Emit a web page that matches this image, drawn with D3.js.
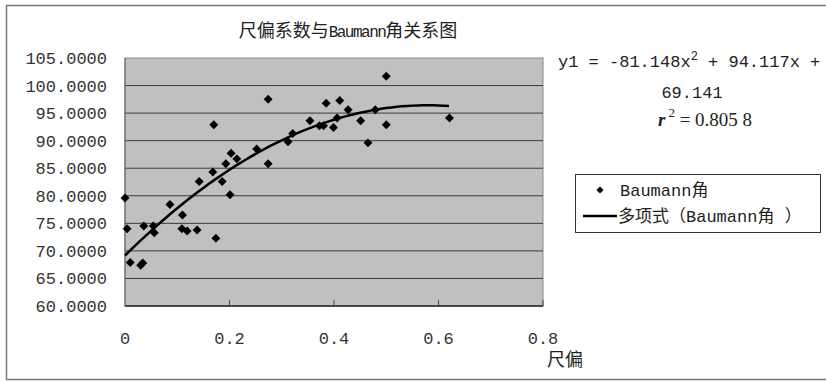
<!DOCTYPE html>
<html>
<head>
<meta charset="utf-8">
<script src="https://cdn.jsdelivr.net/npm/d3@7"></script>
<style>
  body { margin: 0; background: #fff; }
  svg { display: block; }
</style>
</head>
<body>
<div id="chart"></div>
<script>
// 尺偏 (x) and Baumann角 (y)
const ratio = [0.000, 0.004, 0.010, 0.030, 0.034, 0.036, 0.054, 0.056, 0.086, 0.110,
  0.109, 0.119, 0.138, 0.142, 0.170, 0.174, 0.168, 0.186, 0.201, 0.193,
  0.203, 0.214, 0.252, 0.274, 0.274, 0.312, 0.321, 0.354, 0.372, 0.380,
  0.385, 0.399, 0.406, 0.411, 0.427, 0.451, 0.465, 0.479, 0.500, 0.500, 0.621]
const baumann = [79.6, 74.0, 67.9, 67.4, 67.8, 74.5, 74.5, 73.3, 78.4, 76.5,
  74.0, 73.6, 73.8, 82.6, 92.9, 72.3, 84.3, 82.6, 80.2, 85.8,
  87.7, 86.7, 88.5, 85.8, 97.5, 89.8, 91.3, 93.6, 92.7, 92.7,
  96.8, 92.4, 94.1, 97.3, 95.6, 93.6, 89.6, 95.6, 101.7, 92.9, 94.1]

// trendline coefficients as printed on the chart: a x^2 + b x + c
const trendCoef = [-81.148, 94.117, 69.141]

const xTicks = [0, 0.2, 0.4, 0.6, 0.8]
const yTicks = [60, 65, 70, 75, 80, 85, 90, 95, 100, 105]

const W = 826, H = 382
const mono = "'Liberation Mono', 'DejaVu Sans Mono', monospace"
const cjk = "'Noto Sans CJK SC', sans-serif"

const svg = d3.select("#chart").append("svg")
  .attr("width", W)
  .attr("height", H)

// outer chart frame
svg.append("rect")
  .attr("x", 6.5).attr("y", 5.5)
  .attr("width", W + 10).attr("height", 374)
  .attr("fill", "#fff")
  .attr("stroke", "#7a7a7a")
  .attr("stroke-width", 1.5)

const x = d3.scaleLinear().domain([0, 0.8]).range([125, 543])
const y = d3.scaleLinear().domain([60, 105]).range([306, 58])

// plot area
svg.append("rect")
  .attr("x", x(0)).attr("y", y(105))
  .attr("width", x(0.8) - x(0)).attr("height", y(60) - y(105))
  .attr("fill", "#c0c0c0")
  .attr("stroke", "#8a8a8a")

// horizontal gridlines
svg.append("g")
  .selectAll("line")
  .data(yTicks.filter(d => d > 60 && d < 105))
  .join("line")
    .attr("x1", x(0)).attr("x2", x(0.8))
    .attr("y1", d => y(d)).attr("y2", d => y(d))
    .attr("stroke", "#3a3a3a")
    .attr("stroke-width", 1)

// left + bottom axis lines
svg.append("line")
  .attr("x1", x(0)).attr("x2", x(0))
  .attr("y1", y(105)).attr("y2", y(60))
  .attr("stroke", "#666")
svg.append("line")
  .attr("x1", x(0)).attr("x2", x(0.8))
  .attr("y1", y(60)).attr("y2", y(60))
  .attr("stroke", "#222")
  .attr("stroke-width", 1.5)

// x tick marks pointing up into the plot
svg.append("g")
  .selectAll("line")
  .data(xTicks.slice(1))
  .join("line")
    .attr("x1", d => x(d)).attr("x2", d => x(d))
    .attr("y1", y(60) - 6).attr("y2", y(60))
    .attr("stroke", "#444")

// y tick labels
svg.append("g")
  .selectAll("text")
  .data(yTicks)
  .join("text")
    .attr("x", 107)
    .attr("y", d => y(d) + 6)
    .attr("text-anchor", "end")
    .attr("font-family", mono)
    .attr("font-size", 17)
    .attr("fill", "#333")
    .text(d => d3.format(".4f")(d))

// x tick labels
svg.append("g")
  .selectAll("text")
  .data(xTicks)
  .join("text")
    .attr("x", d => x(d))
    .attr("y", 344)
    .attr("text-anchor", "middle")
    .attr("font-family", mono)
    .attr("font-size", 17)
    .attr("fill", "#333")
    .text(d => d === 0 ? "0" : d3.format(".1f")(d))

// trendline over the data range
const [a, b, c] = trendCoef
const trend = d3.range(0, d3.max(ratio) + 0.0001, 0.01).map(v => [v, a * v * v + b * v + c])
svg.append("path")
  .datum(trend)
  .attr("fill", "none")
  .attr("stroke", "#000")
  .attr("stroke-width", 2.5)
  .attr("d", d3.line().x(d => x(d[0])).y(d => y(d[1])))

// scatter points (diamonds)
const diamond = d3.symbol(d3.symbolSquare, 40)
svg.append("g")
  .selectAll("path")
  .data(d3.zip(ratio, baumann))
  .join("path")
    .attr("d", diamond)
    .attr("transform", d => `translate(${x(d[0])},${y(d[1])}) rotate(45)`)
    .attr("fill", "#000")

// mixed text: latin runs in mono, CJK in Noto
function mixed(sel, parts) {
  parts.forEach(p => {
    sel.append("tspan")
      .attr("font-family", /[\u3000-\u9fff\uff00-\uffef]/.test(p) ? cjk : mono)
      .text(p)
  })
  return sel
}

// title
mixed(svg.append("text")
  .attr("x", 348).attr("y", 37)
  .attr("text-anchor", "middle")
  .attr("font-size", 18)
  .attr("fill", "#222"), ["尺偏系数与", "Baumann", "角关系图"])
  .select("tspan:nth-child(2)").attr("font-size", 16).attr("letter-spacing", -1.5)

// x axis title
svg.append("text")
  .attr("x", 565).attr("y", 366)
  .attr("text-anchor", "middle")
  .attr("font-family", cjk)
  .attr("font-size", 18)
  .attr("fill", "#222")
  .text("尺偏")

// equation
const eq = svg.append("text")
  .attr("x", 558).attr("y", 67)
  .attr("font-family", mono)
  .attr("font-size", 17)
  .attr("fill", "#222")
eq.append("tspan").text(`y1 = ${a}x`)
eq.append("tspan").attr("dy", -7).attr("font-size", 12).text("2")
eq.append("tspan").attr("dy", 7).text(` + ${b}x +`)

svg.append("text")
  .attr("x", 692).attr("y", 98)
  .attr("text-anchor", "middle")
  .attr("font-family", mono)
  .attr("font-size", 17)
  .attr("fill", "#222")
  .text(c)

const r2 = svg.append("text")
  .attr("x", 658).attr("y", 126)
  .attr("font-family", "'Liberation Serif', serif")
  .attr("font-size", 19)
  .attr("fill", "#222")
r2.append("tspan").attr("font-style", "italic").attr("font-weight", "bold").text("r")
r2.append("tspan").attr("dy", -9).attr("dx", 3).attr("font-size", 13).text("2")
r2.append("tspan").attr("dy", 9).text("  = 0.805 8")

// legend
const lg = svg.append("g")
lg.append("rect")
  .attr("x", 575.5).attr("y", 174.5)
  .attr("width", 245).attr("height", 58)
  .attr("fill", "#fff")
  .attr("stroke", "#333")
lg.append("path")
  .attr("d", d3.symbol(d3.symbolSquare, 26))
  .attr("transform", "translate(600,190) rotate(45)")
  .attr("fill", "#000")
mixed(lg.append("text")
  .attr("x", 620).attr("y", 196)
  .attr("font-size", 17)
  .attr("fill", "#222"), ["Baumann", "角"])
lg.append("line")
  .attr("x1", 583).attr("x2", 617)
  .attr("y1", 216).attr("y2", 216)
  .attr("stroke", "#000")
  .attr("stroke-width", 2.5)
mixed(lg.append("text")
  .attr("x", 618).attr("y", 222)
  .attr("font-size", 17)
  .attr("fill", "#222"), ["多项式（", "Baumann", "角", " ", "）"])
</script>
</body>
</html>
